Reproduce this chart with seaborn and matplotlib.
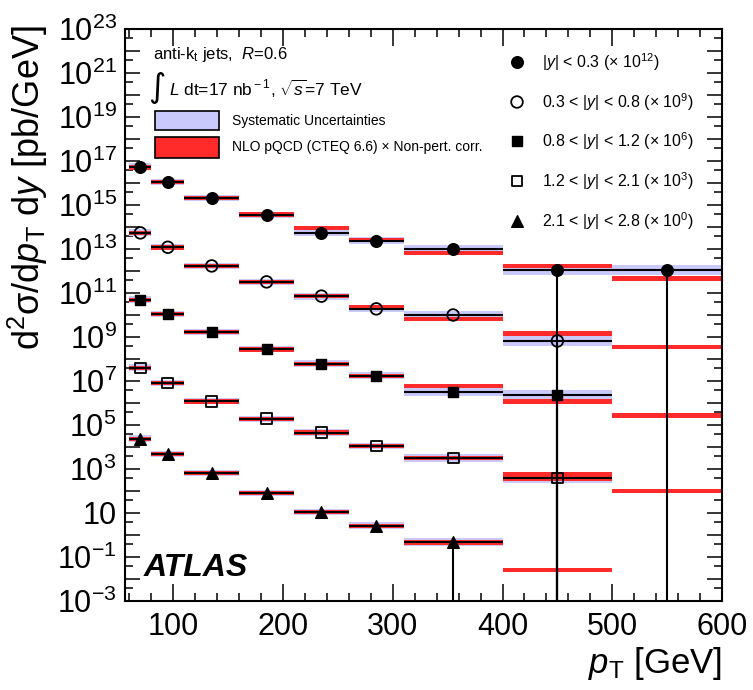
import numpy as np
import pandas as pd
import matplotlib
matplotlib.use("Agg")
import matplotlib.pyplot as plt
import matplotlib.ticker as mticker
from matplotlib.patches import Rectangle
import seaborn as sns

# ---------------- data ----------------
bin_lo = [60, 80, 110, 160, 210, 260, 310, 400, 500]
bin_hi = [80, 110, 160, 210, 260, 310, 400, 500, 600]
bin_ctr = [70, 95, 135, 185, 235, 285, 355, 450, 550]

series_labels = [
    r"|$y$| < 0.3 (× 10$^{12}$)",
    r"0.3 < |$y$| < 0.8 (× 10$^{9}$)",
    r"0.8 < |$y$| < 1.2 (× 10$^{6}$)",
    r"1.2 < |$y$| < 2.1 (× 10$^{3}$)",
    r"2.1 < |$y$| < 2.8 (× 10$^{0}$)",
]
nan = np.nan
data_s1 = [5.4e16, 1.1e16, 2.1e15, 3.5e14, 5.4e13, 2.3e13, 1.0e13, 1.1e12, 1.1e12]
data_s2 = [5.4e13, 1.2e13, 1.7e12, 3.2e11, 7.2e10, 1.9e10, 1.0e10, 6.6e8, nan]
data_s3 = [4.8e10, 1.1e10, 1.7e9, 2.8e8, 5.9e7, 1.7e7, 3.2e6, 2.3e6, nan]
data_s4 = [3.9e7, 8.1e6, 1.2e6, 1.9e5, 4.4e4, 1.1e4, 3.2e3, 3.9e2, nan]
data_s5 = [2.3e4, 4.8e3, 6.6e2, 81, 11, 2.6, 0.48, nan, nan]

nlo_s1 = [5.2e16, 1.1e16, 2.1e15, 3.7e14, 8.9e13, 2.6e13, 6.6e12, 1.7e12, 4.4e11]
nlo_s2 = [5.4e13, 1.2e13, 1.7e12, 3.2e11, 7.2e10, 2.3e10, 6.6e9, 1.4e9, 3.5e8]
nlo_s3 = [4.8e10, 1.1e10, 1.7e9, 2.8e8, 5.9e7, 1.7e7, 5.9e6, 1.2e6, 2.8e5]
nlo_s4 = [3.9e7, 8.1e6, 1.2e6, 1.9e5, 4.4e4, 1.1e4, 3.2e3, 4.8e2, 1.0e2]
nlo_s5 = [2.3e4, 4.8e3, 6.6e2, 81, 11, 2.6, 0.44, 0.026, nan]

# NLO theory relative half-width (multiplicative factor)
nlo_unc_s1 = [0.28, 0.28, 0.28, 0.28, 0.28, 0.28, 0.28, 0.28, 0.28]
nlo_unc_s2 = [0.28, 0.28, 0.28, 0.28, 0.28, 0.28, 0.28, 0.28, 0.28]
nlo_unc_s3 = [0.28, 0.28, 0.28, 0.28, 0.28, 0.28, 0.28, 0.28, 0.28]
nlo_unc_s4 = [0.28, 0.28, 0.28, 0.28, 0.28, 0.28, 0.28, 0.6, 0.28]
nlo_unc_s5 = [0.28, 0.28, 0.28, 0.28, 0.28, 0.28, 0.3, 0.28, 0.28]

# systematic uncertainty (relative up / down)
sys_up = [0.45, 0.4, 0.4, 0.4, 0.45, 0.45, 0.55, 0.75, 0.75]
sys_dn = [0.3, 0.28, 0.28, 0.28, 0.3, 0.3, 0.35, 0.42, 0.42]

# statistical lower error (relative; 1.0 = down to zero)
stat_dn_s1 = [0, 0, 0, 0, 0, 0, 0, 1.0, 1.0]
stat_dn_s2 = [0, 0, 0, 0, 0, 0, 0, 1.0, 0]
stat_dn_s3 = [0, 0, 0, 0, 0, 0, 0, 1.0, 0]
stat_dn_s4 = [0, 0, 0, 0, 0, 0, 0, 1.0, 0]
stat_dn_s5 = [0, 0, 0, 0, 0, 0.55, 1.0, 0, 0]

all_data = [data_s1, data_s2, data_s3, data_s4, data_s5]
all_nlo = [nlo_s1, nlo_s2, nlo_s3, nlo_s4, nlo_s5]
all_nlo_unc = [nlo_unc_s1, nlo_unc_s2, nlo_unc_s3, nlo_unc_s4, nlo_unc_s5]
all_stat = [stat_dn_s1, stat_dn_s2, stat_dn_s3, stat_dn_s4, stat_dn_s5]

# ---------------- style ----------------
sns.set_style("ticks")
plt.rcParams.update({
    "font.family": ["Liberation Sans", "DejaVu Sans"],
    "mathtext.fontset": "custom",
    "mathtext.rm": "Liberation Sans",
    "mathtext.it": "Liberation Sans:italic",
    "mathtext.bf": "Liberation Sans:bold",
    "axes.unicode_minus": False,
    "text.color": "black",
    "axes.labelcolor": "black",
    "xtick.color": "black",
    "ytick.color": "black",
    "axes.edgecolor": "black",
})

W, H = 753, 690
fig = plt.figure(figsize=(W / 100, H / 100), dpi=100)
AX_L, AX_R, AX_T, AX_B = 125, 722, 29, 601
ax = fig.add_axes([AX_L / W, 1 - AX_B / H, (AX_R - AX_L) / W, (AX_B - AX_T) / H])

YMIN, YMAX = 1e-3, 1e23
ax.set_yscale("log")
ax.set_xlim(56, 600)
ax.set_ylim(YMIN, YMAX)

BLUE = "#c9c9fb"
RED = "#ff2a2a"
markers = ["o", "o", "s", "s", "^"]
filled = [True, False, True, False, True]
msize = [70, 70, 60, 60, 70]

for i in range(5):
    df = pd.DataFrame({"lo": bin_lo, "hi": bin_hi, "pt": bin_ctr,
                       "val": all_data[i], "nlo": all_nlo[i],
                       "nu": all_nlo_unc[i], "su": sys_up, "sd": sys_dn,
                       "st": all_stat[i]})
    for _, r in df.iterrows():
        w = r.hi - r.lo
        if not np.isnan(r.val):
            ax.add_patch(Rectangle((r.lo, r.val * (1 - r.sd)), w,
                                   r.val * (1 + r.su) - r.val * (1 - r.sd),
                                   facecolor=BLUE, edgecolor="none", zorder=1))
        if not np.isnan(r.nlo):
            ax.add_patch(Rectangle((r.lo, r.nlo / (1 + r.nu)), w,
                                   r.nlo * (1 + r.nu) - r.nlo / (1 + r.nu),
                                   facecolor=RED, edgecolor="none", zorder=2))
        if not np.isnan(r.val):
            ax.hlines(r.val, r.lo, r.hi, color="black", lw=1.5, zorder=3)
            if r.st > 0:
                low = r.val * (1 - r.st)
                low = max(low, YMIN * 0.5)
                ax.vlines(r.pt, low, r.val, color="black", lw=1.5, zorder=3,
                          clip_on=True)
    pts = df.dropna(subset=["val"])
    if filled[i]:
        sns.scatterplot(data=pts, x="pt", y="val", marker=markers[i], s=msize[i],
                        color="black", edgecolor="black", linewidth=1.0,
                        ax=ax, zorder=5, legend=False)
    else:
        sns.scatterplot(data=pts, x="pt", y="val", marker=markers[i], s=msize[i],
                        facecolor="none", edgecolor="black", linewidth=1.3,
                        ax=ax, zorder=5, legend=False)

ax.set_xlabel("")
ax.set_ylabel("")

# ticks
ax.xaxis.set_major_locator(mticker.FixedLocator([100, 200, 300, 400, 500, 600]))
ax.xaxis.set_minor_locator(mticker.MultipleLocator(20))
ax.yaxis.set_major_locator(mticker.LogLocator(base=10, numticks=40))
ax.yaxis.set_minor_locator(mticker.LogLocator(base=10, subs=[4.0], numticks=40))


def yfmt(v, pos):
    e = int(round(np.log10(v)))
    if e % 2 == 0:
        return ""
    if e == 1:
        return "10"
    return r"$10^{%d}$" % e


ax.yaxis.set_major_formatter(mticker.FuncFormatter(yfmt))
ax.yaxis.set_minor_formatter(mticker.NullFormatter())
ax.tick_params(which="both", direction="in", top=True, right=True, width=1.1,
               colors="black")
ax.tick_params(axis="x", which="major", length=12, labelsize=22, pad=8)
ax.tick_params(axis="x", which="minor", length=6)
ax.tick_params(axis="y", which="major", length=11, labelsize=22, pad=6)
ax.tick_params(axis="y", which="minor", length=6)
for s in ax.spines.values():
    s.set_linewidth(1.5)
    s.set_color("black")


def A(px, py):
    return ((px - AX_L) / (AX_R - AX_L), (AX_B - py) / (AX_B - AX_T))


# axis titles
fig.text(28 / W, 1 - 25 / H, r"d$^{2}$σ/d$p_{\rm T}$ d$y$ [pb/GeV]", rotation=90,
         ha="center", va="top", fontsize=26)
fig.text(AX_R / W, 1 - 664 / H, r"$p_{\rm T}$ [GeV]", ha="right", va="center",
         fontsize=25)

# top-left legend
ax.text(*A(153, 55), r"anti-k$_{\rm t}$ jets,  $R$=0.6", transform=ax.transAxes,
        ha="left", va="center", fontsize=12)
ax.text(*A(148, 88), "∫", transform=ax.transAxes, ha="left", va="center",
        fontsize=24, family="DejaVu Sans")
ax.text(*A(169, 89), r"$L$ dt=17 nb$^{\rm -1}$, $\sqrt{s}$=7 TeV",
        transform=ax.transAxes, ha="left", va="center", fontsize=12.5)
for (y0, y1, fc, lab) in [(111, 130, BLUE, "Systematic Uncertainties"),
                          (137, 158, RED, "NLO pQCD (CTEQ 6.6) × Non-pert. corr.")]:
    x0a, y0a = A(155, y1)
    x1a, y1a = A(219, y0)
    ax.add_patch(Rectangle((x0a, y0a), x1a - x0a, y1a - y0a, transform=ax.transAxes,
                           facecolor=fc, edgecolor="black", lw=1.2, zorder=6,
                           clip_on=False))
    ax.text(*A(232, (y0 + y1) / 2), lab, transform=ax.transAxes, ha="left",
            va="center", fontsize=10)

# top-right legend
leg_y = [62, 102, 141, 181, 221]
for i in range(5):
    mx, my = A(517, leg_y[i])
    if filled[i]:
        ax.scatter([mx], [my], marker=markers[i], s=msize[i], color="black",
                   transform=ax.transAxes, zorder=6, clip_on=False)
    else:
        ax.scatter([mx], [my], marker=markers[i], s=msize[i], facecolor="none",
                   edgecolor="black", linewidth=1.3, transform=ax.transAxes,
                   zorder=6, clip_on=False)
    ax.text(*A(542, leg_y[i]), series_labels[i], transform=ax.transAxes,
            ha="left", va="center", fontsize=11.5)

# ATLAS label
ax.text(*A(144, 568), "ATLAS", transform=ax.transAxes, ha="left", va="center",
        fontsize=23, fontweight="bold", fontstyle="italic")

fig.savefig("out.png", dpi=100)
